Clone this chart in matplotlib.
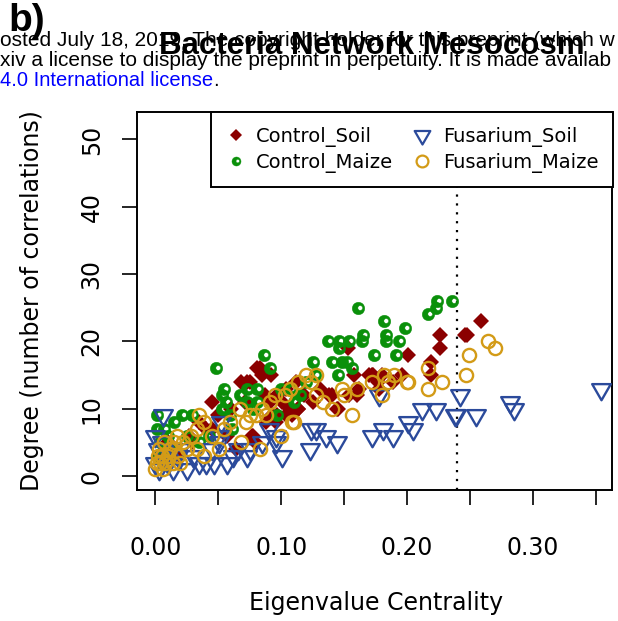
import numpy as np
import matplotlib
matplotlib.use("Agg")
import matplotlib.pyplot as plt
from matplotlib.path import Path
from matplotlib.lines import Line2D

# ---------------- data ----------------
cs_x = [0.259,0.226,0.226,0.246,0.248,0.201,0.219,0.219,0.196,0.178,0.172,0.180,
        0.153,0.081,0.085,0.092,0.075,0.045,0.138,0.144,0.158,0.162,0.170,0.112,0.104,0.113,0.107,0.077,0.088,0.096,0.071,0.040,0.027,
        0.083,0.087,0.091,0.093,0.097,0.104,0.113,0.109,0.078,0.145,0.154,0.160,0.173,0.177,0.140,0.068,
        0.073,0.035,0.045,0.057,0.064,0.079,0.029,0.013,0.007,0.003,0.010,0.020,0.050,0.060,0.118,0.125,0.131,0.097,0.101,0.189]
cs_y = [23,21,19,21,21,18,17,15,15,13,15,15,
        19,16,15,15,14,11,12,10,15,13,15,14,13,10,10,6,8,8,11,7,6,
        16,12,11,9,9,9,10,9,6,10,12,12,15,14,12,14,
        14,8,7,6,4,5,5,4,2,3,5,3,9,10,12,11,13,12,11,14]

cm_x = [0.236,0.224,0.223,0.217,0.182,0.198,0.183,0.183,0.194,0.174,0.191,
        0.161,0.165,0.164,0.137,0.146,0.154,0.146,0.140,0.148,0.152,0.156,0.145,0.125,0.086,0.091,0.048,0.127,
        0.055,0.073,0.081,0.053,0.056,0.073,0.081,0.053,0.100,0.107,0.115,0.097,0.001,0.021,0.029,0.001,0.007,0.061,0.043,0.059,
        0.004,0.010,0.015,0.003,0.012,0.025,0.035,0.067,0.078,0.110,0.120]
cm_y = [26,26,25,24,23,22,21,20,20,18,18,
        25,21,20,20,20,20,19,17,17,17,16,15,17,18,16,16,15,
        13,13,13,12,11,11,11,10,13,13,12,9,9,9,9,7,7,7,6,9,
        5,6,8,3,4,6,5,12,10,11,14]

fs_x = [0.354,0.242,0.282,0.285,0.212,0.223,0.238,0.239,0.255,0.201,0.205,0.181,0.189,0.172,0.178,
        0.006,0.052,0.124,0.128,0.136,0.144,0.101,0.123,0.096,0.075,0.057,0.047,0.040,0.025,0.014,0.003,0.051,0.051,0.096,0.073,
        0.000,0.002,0.005,0.008,0.010,0.018,0.020,0.030,0.035,0.062,0.066,0.045,0.085,0.090,0.000]
fs_y = [13,12,11,10,10,10,9,9,9,8,7,7,6,6,12,
        9,8,7,7,6,5,3,4,5,4,2,2,2,1,1,1,5,6,6,3,
        2,4,5,3,2,3,4,3,2,3,4,4,5,7,6]

fm_x = [0.264,0.270,0.249,0.247,0.228,0.217,0.217,0.200,0.201,0.182,0.185,0.180,0.172,
        0.120,0.128,0.124,0.107,0.103,0.128,0.133,0.148,0.150,0.156,0.091,0.088,0.080,0.075,0.109,0.110,0.100,0.067,0.059,0.072,0.068,0.083,0.035,0.039,0.033,0.017,0.025,0.033,0.051,0.039,
        0.000,0.001,0.002,0.003,0.004,0.005,0.006,0.007,0.008,0.010,0.012,0.014,0.015,0.018,0.020,0.022,0.028,0.045,0.055,0.085,0.095,0.113,0.140,0.160,0.190]
fm_y = [20,19,18,15,14,16,13,14,14,15,14,12,14,
        15,15,14,13,12,12,11,13,12,9,11,9,9,9,8,8,6,10,8,8,5,4,9,8,7,6,4,4,4,3,
        1,2,3,4,2,3,1,5,2,3,4,2,5,3,2,5,6,6,7,10,12,14,10,13,15]

series_labels = ["Control_Soil", "Control_Maize", "Fusarium_Soil", "Fusarium_Maize"]
x_ticks = [0.00, 0.05, 0.10, 0.15, 0.20, 0.25, 0.30, 0.35]
x_ticklabels = ["0.00", "", "0.10", "", "0.20", "", "0.30", ""]
y_ticks = [0, 10, 20, 30, 40, 50]
cutoff = 0.24

# ---------------- styles ----------------
C_CS = "#8B0000"
C_CM = "#0A900A"
C_FS = "#2B4A9B"
C_FM = "#D39B17"

# green circle with an off-centre hole
outer = Path.unit_circle()
inner = Path.circle(center=(0.28, 0.08), radius=0.38)
iv = inner.vertices[:-1][::-1]
iv = np.vstack([iv, iv[:1]])
ring_path = Path(np.vstack([outer.vertices, iv]),
                 np.concatenate([outer.codes, inner.codes]))

tri_path = Path([(-1, 0.577), (1, 0.577), (0, -1.155), (-1, 0.577)],
                [Path.MOVETO, Path.LINETO, Path.LINETO, Path.CLOSEPOLY])

W, H = 618, 621
fig = plt.figure(figsize=(W / 100, H / 100), dpi=100)
ax = fig.add_axes([137 / W, 1 - 490 / H, (612 - 137) / W, (490 - 112) / H])

ax.axvline(cutoff, color="black", linestyle=(0, (1, 3)), linewidth=1.6, zorder=1)

ax.plot(cs_x, cs_y, linestyle="none", marker="D", markersize=8.5,
        color=C_CS, markeredgewidth=0, zorder=2)
ax.plot(cm_x, cm_y, linestyle="none", marker=ring_path, markersize=9,
        markerfacecolor=C_CM, markeredgecolor=C_CM, markeredgewidth=0.3, zorder=3)
ax.plot(fs_x, fs_y, linestyle="none", marker=tri_path, markersize=15.5,
        markerfacecolor="none", markeredgecolor=C_FS, markeredgewidth=1.7, zorder=4)
ax.plot(fm_x, fm_y, linestyle="none", marker="o", markersize=9.5,
        markerfacecolor="none", markeredgecolor=C_FM, markeredgewidth=1.7, zorder=5)

ax.set_xlim(-0.0145, 0.3628)
ax.set_ylim(-2.08, 54.08)

ax.set_xticks(x_ticks)
ax.set_xticklabels(x_ticklabels)
ax.set_yticks(y_ticks)
ax.set_yticklabels([str(v) for v in y_ticks], rotation=90, va="center")
ax.tick_params(axis="both", direction="out", length=11, width=1.2,
               labelsize=17, color="black")
ax.tick_params(axis="x", pad=22)
ax.tick_params(axis="y", pad=13)
for lab in ax.get_xticklabels() + ax.get_yticklabels():
    lab.set_fontfamily("DejaVu Sans")
for sp in ax.spines.values():
    sp.set_linewidth(1.4)

handles = [
    Line2D([], [], linestyle="none", marker="D", markersize=6.5, color=C_CS, markeredgewidth=0),
    Line2D([], [], linestyle="none", marker=ring_path, markersize=6.5,
           markerfacecolor=C_CM, markeredgecolor=C_CM, markeredgewidth=0.3),
    Line2D([], [], linestyle="none", marker=tri_path, markersize=13,
           markerfacecolor="none", markeredgecolor=C_FS, markeredgewidth=1.6),
    Line2D([], [], linestyle="none", marker="o", markersize=8.5,
           markerfacecolor="none", markeredgecolor=C_FM, markeredgewidth=1.6),
]
leg = ax.legend(handles, series_labels, ncol=2, loc="upper right",
                bbox_to_anchor=(1.002, 1.0), frameon=True, fancybox=False,
                edgecolor="black", framealpha=1, borderaxespad=0,
                prop={"family": "DejaVu Sans", "size": 14},
                handlelength=1.0, handletextpad=0.55,
                columnspacing=1.0, labelspacing=0.32, borderpad=0.75)
leg.get_frame().set_linewidth(1.4)
leg.set_zorder(10)

fig.text(376 / W, 1 - 603 / H, "Eigenvalue Centrality", ha="center", va="center",
         fontsize=17, family="DejaVu Sans")
fig.text(32 / W, 1 - 301 / H, "Degree (number of correlations)", ha="center", va="center",
         rotation=90, fontsize=17, family="DejaVu Sans")

# preprint watermark
fig.text(0 / W, 1 - 40 / H, "osted July 18, 2019. The copyright holder for this preprint (which w",
         ha="left", va="center", fontsize=15, family="Liberation Sans")
fig.text(0 / W, 1 - 60 / H, "xiv a license to display the preprint in perpetuity. It is made availab",
         ha="left", va="center", fontsize=15, family="Liberation Sans")
t3 = fig.text(0 / W, 1 - 80 / H, "4.0 International license", ha="left", va="center",
              fontsize=14.5, family="Liberation Sans", color="#0000FF")
fig.canvas.draw()
bb = t3.get_window_extent(renderer=fig.canvas.get_renderer())
fig.text(bb.x1 / W, 1 - 80 / H, ".", ha="left", va="center",
         fontsize=14.5, family="Liberation Sans", color="black")

fig.text(372 / W, 1 - 46 / H, "Bacteria Network Mesocosm", ha="center", va="center",
         fontsize=22.5, fontweight="bold", family="Liberation Sans")
fig.text(8 / W, 1 - 21 / H, "b)", ha="left", va="center",
         fontsize=28, fontweight="bold", family="Liberation Sans")

fig.savefig("out.png", dpi=100)
